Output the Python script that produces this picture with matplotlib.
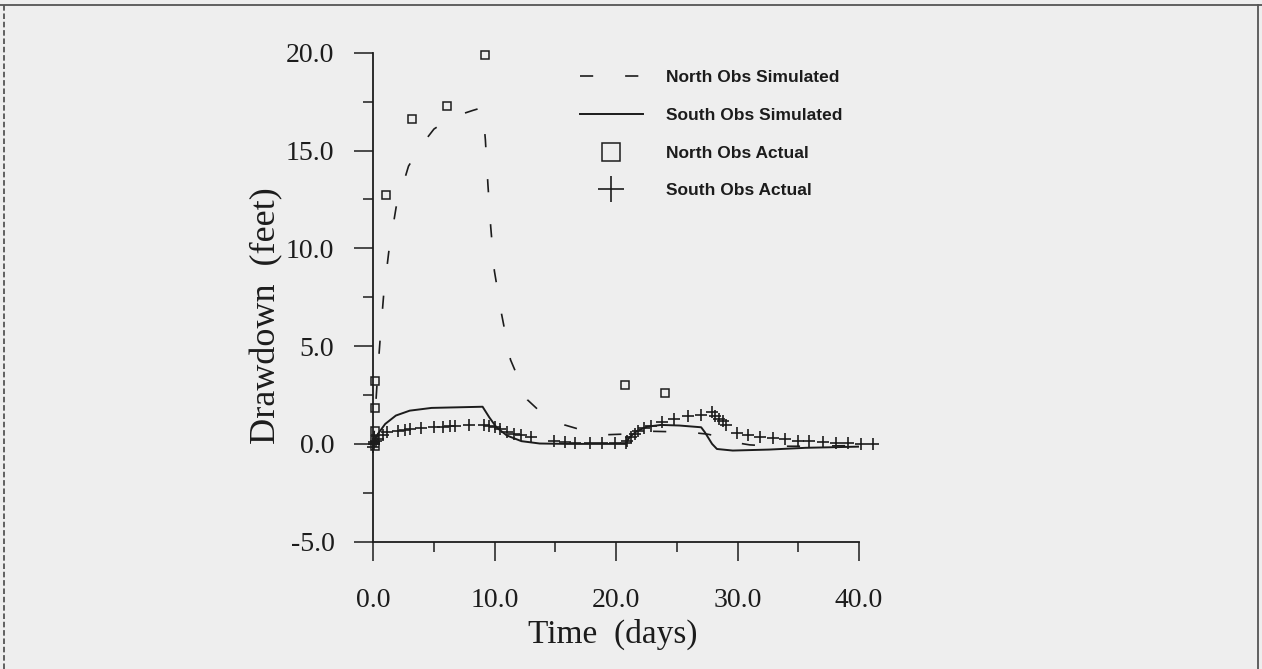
import matplotlib
matplotlib.use("Agg")
import matplotlib.pyplot as plt
from matplotlib.lines import Line2D
from matplotlib.ticker import MultipleLocator, FormatStrFormatter

plt.rcParams['lines.scale_dashes'] = False

# ---- data ----
north_sim_t = [0.0, 0.05, 0.15, 0.3, 0.45, 0.58, 0.85, 1.27, 1.88, 2.9, 4.0, 5.0, 6.5, 8.2, 9.0,
               9.23, 9.44, 9.67, 9.97, 10.56, 11.3, 12.7, 14.0, 15.75, 17.5, 19.3, 20.6, 21.5,
               22.5, 24.0, 26.0, 27.5, 28.3, 29.0, 30.0, 31.0, 33.0, 36.0, 40.0]
north_sim_v = [0.0, 0.3, 1.5, 3.0, 4.4, 5.5, 7.6, 9.8, 12.1, 14.2, 15.3, 16.1, 16.7, 17.05, 17.2,
               15.55, 13.25, 11.1, 8.85, 6.65, 4.3, 2.25, 1.5, 0.97, 0.65, 0.47, 0.5, 0.62,
               0.65, 0.63, 0.6, 0.5, 0.4, 0.25, 0.05, -0.05, -0.12, -0.12, -0.08]

south_sim_t = [0.0, 0.1, 0.38, 0.98, 1.86, 3.0, 4.8, 6.9, 9.0, 9.55, 10.14, 11.0, 12.2, 13.7,
               16.0, 18.0, 20.8, 21.1, 21.7, 22.55, 23.7, 25.2, 27.0, 27.3, 27.9, 28.3, 29.6,
               32.6, 35.6, 40.0]
south_sim_v = [0.0, 0.2, 0.51, 1.02, 1.45, 1.7, 1.84, 1.87, 1.9, 1.36, 0.85, 0.43, 0.14, 0.02,
               0.0, 0.0, 0.0, 0.34, 0.65, 0.88, 0.97, 0.94, 0.85, 0.6, 0.0, -0.26, -0.34,
               -0.29, -0.2, -0.14]

north_act_t = [0.15, 0.15, 0.15, 0.15, 0.1, 1.04, 3.2, 6.1, 9.2, 20.7, 24.0]
north_act_v = [3.2, 1.84, 0.68, 0.2, -0.1, 12.7, 16.6, 17.3, 19.9, 3.0, 2.6]

south_act_t = [0.0, 0.05, 0.09, 0.2, 0.38, 0.83, 1.12, 2.01, 2.6, 3.04, 3.93, 4.97, 5.7, 6.3,
               6.74, 7.92, 9.1, 9.55, 10.0, 10.43, 11.03, 11.6, 12.2, 12.95, 14.87, 15.76,
               16.64, 17.82, 18.86, 19.9, 20.78, 20.93, 21.22, 21.52, 21.8, 22.26, 22.85,
               23.74, 24.77, 25.95, 27.0, 27.87, 28.17, 28.47, 28.76, 29.06, 29.94, 30.83,
               31.87, 32.9, 33.93, 34.97, 35.86, 37.04, 38.07, 39.1, 40.14, 41.18]
south_act_v = [-0.15, 0.0, 0.08, 0.15, 0.26, 0.43, 0.6, 0.68, 0.71, 0.77, 0.82, 0.88, 0.88, 0.94,
               0.94, 0.99, 0.99, 0.94, 0.85, 0.77, 0.6, 0.51, 0.43, 0.34, 0.17, 0.085,
               0.03, 0.03, 0.03, 0.03, 0.03, 0.17, 0.34, 0.51, 0.65, 0.82, 0.94,
               1.1, 1.28, 1.45, 1.5, 1.62, 1.45, 1.28, 1.16, 0.99, 0.54, 0.48,
               0.37, 0.31, 0.24, 0.17, 0.14, 0.1, 0.07, 0.03, 0.0, 0.0]

labels = ["North Obs Simulated", "South Obs Simulated", "North Obs Actual", "South Obs Actual"]
x_ticks = [0.0, 10.0, 20.0, 30.0, 40.0]
y_ticks = [-5.0, 0.0, 5.0, 10.0, 15.0, 20.0]

# ---- figure ----
W, H = 1262, 669
fig = plt.figure(figsize=(W / 100, H / 100), dpi=100)
fig.patch.set_facecolor('#eeeeee')

ink = '#1c1c1c'
ax = fig.add_axes([373.3 / W, (H - 541.7) / H, (859 - 373.3) / W, (541.7 - 52.7) / H])
ax.set_facecolor('none')

l1, = ax.plot(north_sim_t, north_sim_v, color=ink, lw=1.2, dashes=(9.5, 23), label=labels[0])
l2, = ax.plot(south_sim_t, south_sim_v, color=ink, lw=1.4, label=labels[1])
l3, = ax.plot(north_act_t, north_act_v, ls='none', marker='s', ms=6, mfc='none', mec=ink,
              mew=1.1, label=labels[2], clip_on=False)
l4, = ax.plot(south_act_t, south_act_v, ls='none', marker='+', ms=8.5, mec=ink, mew=1.2,
              label=labels[3], clip_on=False)

ax.set_xlim(0, 40)
ax.set_ylim(-5, 20)
ax.set_xticks(x_ticks)
ax.set_yticks(y_ticks)
ax.xaxis.set_minor_locator(MultipleLocator(5))
ax.yaxis.set_minor_locator(MultipleLocator(2.5))
ax.xaxis.set_major_formatter(FormatStrFormatter('%.1f'))
ax.yaxis.set_major_formatter(FormatStrFormatter('%.1f'))
for s in ['top', 'right']:
    ax.spines[s].set_visible(False)
for s in ['left', 'bottom']:
    ax.spines[s].set_linewidth(1.3)
    ax.spines[s].set_color(ink)
ax.tick_params(which='major', direction='out', length=14, width=1.1, color=ink)
ax.tick_params(which='minor', direction='out', length=7, width=1.1, color=ink)
ax.tick_params(axis='y', which='major', pad=14)
ax.tick_params(axis='x', which='major', pad=19)
for lab in ax.get_xticklabels() + ax.get_yticklabels():
    lab.set_fontfamily('Liberation Serif')
    lab.set_fontsize(20)
    lab.set_color(ink)

fig.text(267 / W, 1 - 316 / H, "Drawdown  (feet)", rotation=90, ha='center', va='center',
         family='Liberation Serif', fontsize=26, color=ink)
fig.text(613 / W, 1 - 634 / H, "Time  (days)", ha='center', va='center',
         family='Liberation Serif', fontsize=24, color=ink)

leg = ax.legend(handles=[l1, l2, l3, l4], loc='upper left',
                bbox_to_anchor=(580 / W, 1 - 70 / H), bbox_transform=fig.transFigure,
                frameon=False, borderpad=0, borderaxespad=0, handlelength=3.6,
                handletextpad=1.36, labelspacing=1.3, markerscale=2.2,
                prop={'family': 'Liberation Sans', 'weight': 'bold', 'size': 12.5})
for t in leg.get_texts():
    t.set_color(ink)

# page border of the scanned sheet
for xs, ys, st in [([0, 1], [1 - 5 / H, 1 - 5 / H], '-'),
                   ([4 / W, 4 / W], [0, 1 - 5 / H], (0, (4, 2))),
                   ([1 - 4 / W, 1 - 4 / W], [0, 1 - 5 / H], '-')]:
    fig.add_artist(Line2D(xs, ys, transform=fig.transFigure, color='#555555', lw=1.3, ls=st))

fig.savefig('out.png', dpi=100, facecolor=fig.get_facecolor())
